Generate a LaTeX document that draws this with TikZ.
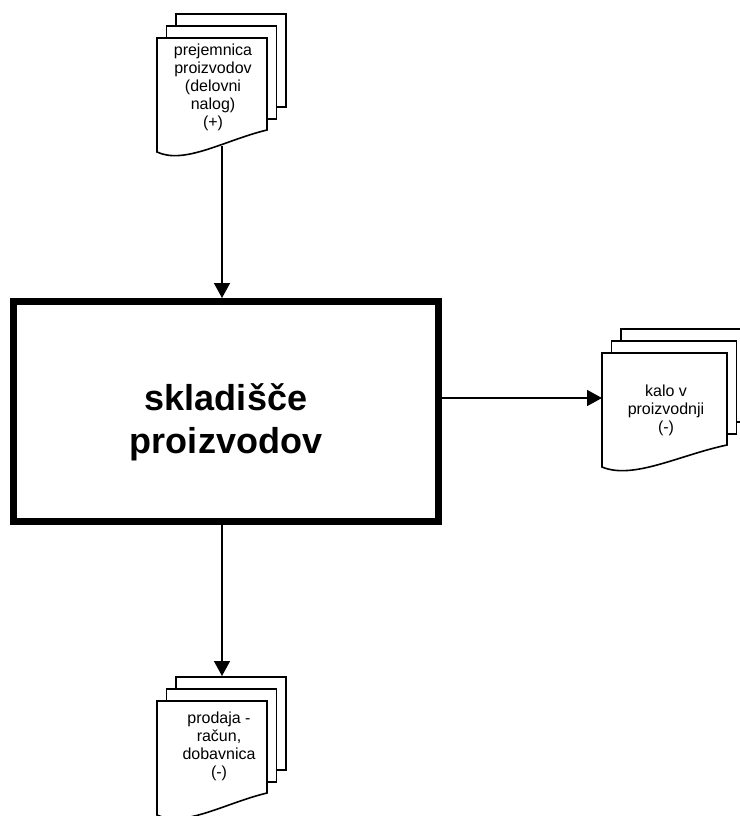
\documentclass[tikz,border=0pt]{standalone}
\usepackage{fontspec}
\setmainfont{Liberation Sans}
\usetikzlibrary{arrows.meta}

% three stacked pages: #1 = left, #2 = top, #3 = width
\newcommand{\docstack}[3]{%
  \draw[page] (#1+19,#2-24) rectangle ++(#3,93);
  \draw[page] (#1+9.5,#2-12) rectangle ++(#3,93);
  \draw[page] (#1,#2) -- ++(#3,0) -- ++(0,92)
    .. controls +({-0.38*#3},10) and +({0.25*#3},13) .. (#1,#2+114) -- cycle;
}

\begin{document}
\begin{tikzpicture}[x=1pt,y=-1pt,
    page/.style={draw,fill=white,line width=1.6pt},
    doctext/.style={align=center,inner sep=0pt,font=\fontsize{16}{18}\selectfont},
    bigbox/.style={draw,line width=7pt,minimum width=425pt,minimum height=220pt,inner sep=0pt},
    bigtext/.style={align=center,inner sep=0pt,font=\fontsize{36}{43}\selectfont\bfseries},
    arr/.style={line width=1.5pt,-{Triangle[length=15pt,width=16pt]}}]
    \useasboundingbox (0,0) rectangle (739,816);

    % Boxes
    \node[bigbox] (sklad) at (226,411.5) {};
    \node[bigtext] (skladtxt) at (226,422) {skladišče\\proizvodov};

    % Documents
    \docstack{157}{38}{110}
    \docstack{602}{353}{125}
    \docstack{157}{701}{110}

    % Labels
    \node[doctext] (prej) at (213,87) {prejemnica\\proizvodov\\(delovni\\nalog)\\(+)};
    \node[doctext] (kalo) at (666,410) {kalo v\\proizvodnji\\(-)};
    \node[doctext] (prod) at (219,746) {prodaja -\\račun,\\dobavnica\\(-)};

    % Arrows
    \coordinate (prejout) at (222,146);
    \coordinate (kaloin) at (602,398);
    \coordinate (prodin) at (222,676);
    \draw[arr] (prejout) -- (prejout |- sklad.north);
    \draw[arr] (kaloin -| sklad.east) -- (kaloin);
    \draw[arr] (prodin |- sklad.south) -- (prodin);
\end{tikzpicture}
\end{document}
